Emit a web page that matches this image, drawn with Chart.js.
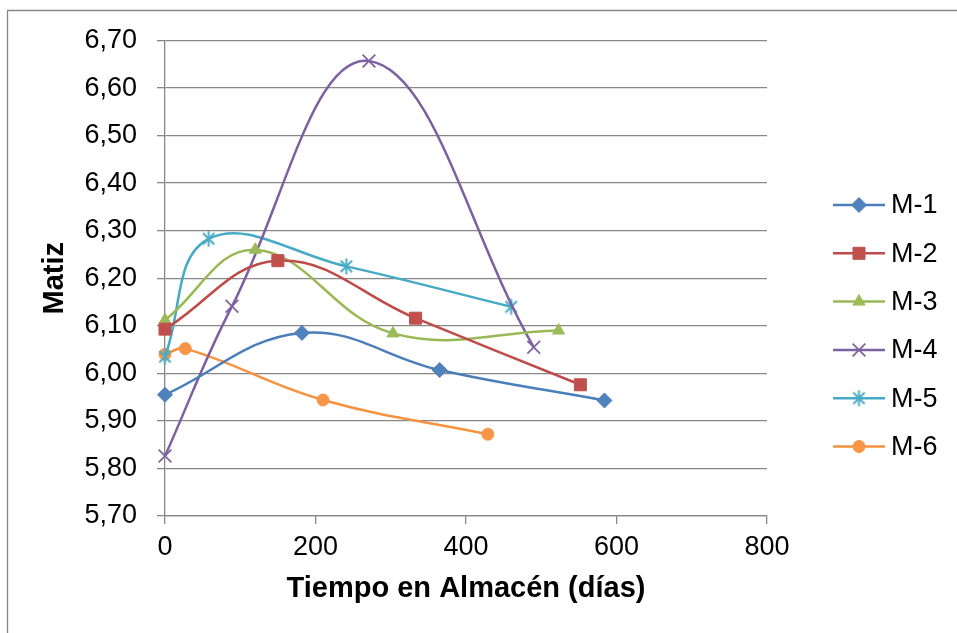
<!DOCTYPE html>
<html>
<head>
<meta charset="utf-8">
<style>
  html, body { margin: 0; padding: 0; background: #fff; }
  #wrap { width: 957px; height: 633px; position: relative; }
</style>
<script src="https://cdn.jsdelivr.net/npm/chart.js"></script>
</head>
<body>
<div id="wrap"><canvas id="chart"></canvas></div>
<script>
const FONT = '"Liberation Sans", Arial, Helvetica, sans-serif';
const GRID = '#878787';

// Matiz frente a tiempo en almacén (días), una serie por muestra
const muestras = ['M-1', 'M-2', 'M-3', 'M-4', 'M-5', 'M-6'];

const m1Dias = [0, 182, 365, 584];
const m1Matiz = [5.955, 6.085, 6.007, 5.943];

const m2Dias = [0, 150, 333, 552];
const m2Matiz = [6.093, 6.237, 6.116, 5.976];

const m3Dias = [0, 120, 303, 523];
const m3Matiz = [6.112, 6.260, 6.084, 6.090];

const m4Dias = [0, 89, 271, 490];
const m4Matiz = [5.826, 6.141, 6.657, 6.055];

const m5Dias = [0, 58, 241, 460];
const m5Matiz = [6.035, 6.283, 6.225, 6.140];

const m6Dias = [0, 27, 210, 429];
const m6Matiz = [6.040, 6.052, 5.944, 5.872];

// asterisco tipo Excel: vertical + dos diagonales
function asterisco(color) {
  const c = document.createElement('canvas');
  c.width = 19; c.height = 19;
  const g = c.getContext('2d');
  g.strokeStyle = color;
  g.lineWidth = 2;
  g.lineCap = 'butt';
  g.beginPath();
  g.moveTo(9.5, 1.5); g.lineTo(9.5, 17.5);
  g.moveTo(3.8, 3.8); g.lineTo(15.2, 15.2);
  g.moveTo(15.2, 3.8); g.lineTo(3.8, 15.2);
  g.stroke();
  return c;
}

const estilos = [
  { line: '#4a7ebb', fill: '#4f81bd', style: 'rectRot', r: 7.5 },
  { line: '#be4b48', fill: '#c0504d', style: 'rect', r: 8.5 },
  { line: '#98b954', fill: '#9bbb59', style: 'triangle', r: 7 },
  { line: '#7d60a0', fill: '#8064a2', style: 'crossRot', r: 9 },
  { line: '#46aac5', fill: '#4bacc6', style: asterisco('#4bacc6'), r: 8 },
  { line: '#f69240', fill: '#f79646', style: 'circle', r: 6 },
];

const series = [
  [m1Dias, m1Matiz], [m2Dias, m2Matiz], [m3Dias, m3Matiz],
  [m4Dias, m4Matiz], [m5Dias, m5Matiz], [m6Dias, m6Matiz],
];

const datasets = series.map(([dias, matiz], i) => {
  const e = estilos[i];
  const cruz = e.style === 'crossRot';
  return {
    label: muestras[i],
    data: dias.map((x, k) => ({ x, y: matiz[k] })),
    showLine: true,
    clip: false,
    tension: 0.4,
    borderColor: e.line,
    borderWidth: 2.5,
    pointStyle: e.style,
    pointRadius: e.r,
    pointHoverRadius: e.r,
    pointBackgroundColor: e.fill,
    pointBorderColor: e.fill,
    pointBorderWidth: cruz ? 1.8 : 1,
  };
});

// marco del gráfico y leyenda a la derecha (línea + marcador)
const extras = {
  id: 'extras',
  afterDraw(chart) {
    const ctx = chart.ctx;
    ctx.save();
    ctx.strokeStyle = GRID;
    ctx.lineWidth = 1.3;
    ctx.beginPath();
    ctx.moveTo(7.5, 633);
    ctx.lineTo(7.5, 10.5);
    ctx.lineTo(957, 10.5);
    ctx.stroke();

    const x0 = 833, x1 = 885;
    chart.data.datasets.forEach((ds, i) => {
      const y = 205 + i * 48.3;
      ctx.strokeStyle = ds.borderColor;
      ctx.lineWidth = ds.borderWidth;
      ctx.beginPath();
      ctx.moveTo(x0, y);
      ctx.lineTo(x1, y);
      ctx.stroke();
      ctx.fillStyle = ds.pointBackgroundColor;
      ctx.strokeStyle = ds.pointBorderColor;
      ctx.lineWidth = ds.pointBorderWidth;
      Chart.helpers.drawPoint(ctx, {
        pointStyle: ds.pointStyle,
        radius: ds.pointRadius,
        rotation: 0,
        borderWidth: ds.pointBorderWidth,
      }, (x0 + x1) / 2, y);
      ctx.fillStyle = '#000';
      ctx.font = '27px ' + FONT;
      ctx.textAlign = 'left';
      ctx.textBaseline = 'middle';
      ctx.fillText(ds.label, 891, y + 1);
    });
    ctx.restore();
  },
};

Chart.defaults.font.family = FONT;
Chart.defaults.color = '#000';

new Chart(document.getElementById('chart'), {
  type: 'scatter',
  data: { datasets },
  plugins: [extras],
  options: {
    responsive: true,
    maintainAspectRatio: false,
    animation: false,
    layout: { padding: { left: 0, top: 40.5, right: 190, bottom: 0 } },
    plugins: { legend: { display: false }, tooltip: { enabled: false } },
    scales: {
      x: {
        type: 'linear',
        min: 0, max: 800,
        ticks: { stepSize: 200, padding: 7, color: '#000', font: { size: 27 }, maxRotation: 0 },
        grid: { drawOnChartArea: false, drawTicks: true, tickLength: 8, color: GRID, lineWidth: 1.3 },
        border: { color: GRID, width: 1.3 },
        title: {
          display: true, text: 'Tiempo en Almacén (días)', color: '#000',
          font: { size: 29, weight: 'bold' }, padding: { top: 0, bottom: 27 },
        },
        afterFit(s) { s.height = 117; },
      },
      y: {
        min: 5.7, max: 6.7,
        ticks: {
          stepSize: 0.1, padding: 20, color: '#000', font: { size: 27 },
          callback: (v) => v.toFixed(2).replace('.', ','),
        },
        grid: { color: GRID, lineWidth: 1.3, tickLength: 8 },
        border: { color: GRID, width: 1.3 },
        title: {
          display: true, text: 'Matiz', color: '#000',
          font: { size: 29, weight: 'bold' }, padding: { top: 38, bottom: 0 },
        },
        afterFit(s) { s.width = 165; },
      },
    },
  },
});
</script>
</body>
</html>
